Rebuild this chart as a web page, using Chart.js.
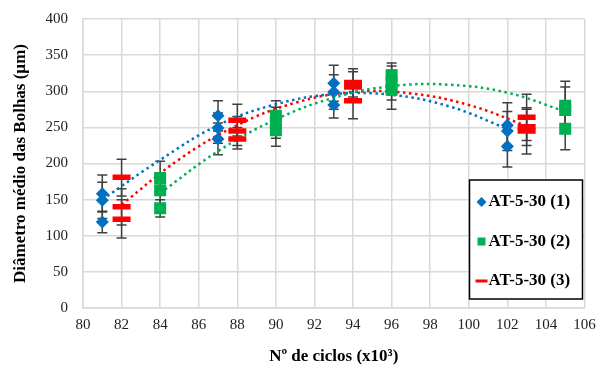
<!DOCTYPE html>
<html>
<head>
<meta charset="utf-8">
<script src="https://cdn.jsdelivr.net/npm/chart.js@4.4.1/dist/chart.umd.min.js"></script>
<style>
  html, body { margin: 0; padding: 0; background: #fff; }
  #wrap { width: 599px; height: 371px; }
</style>
</head>
<body>
<div id="wrap"><canvas id="chart"></canvas></div>
<script>
// values (3 replicates per test point)
const seriesNames = ['AT-5-30 (1)', 'AT-5-30 (2)', 'AT-5-30 (3)'];
const seriesColors = ['#0070C0', '#00B050', '#FF0000'];

const cycles1 = [81, 81, 81, 87, 87, 87, 93, 93, 93, 102, 102, 102];
const diam1   = [158, 149, 119, 266, 249, 234, 311, 299, 281, 253, 245, 224];
const low1    = [133, 124, 104, 245, 228, 212, 286, 275, 263, 222, 218, 195];
const high1   = [184, 174, 134, 287, 270, 256, 336, 323, 299, 284, 272, 253];

const cycles2 = [84, 84, 84, 90, 90, 90, 96, 96, 96, 105, 105, 105];
const diam2   = [180, 163, 138, 266, 256, 246, 322, 312, 302, 280, 274, 248];
const low2    = [157, 140, 126, 245, 235, 224, 305, 288, 275, 255, 250, 219];
const high2   = [203, 186, 150, 287, 278, 268, 339, 335, 329, 314, 306, 277];

const cycles3 = [82, 82, 82, 88, 88, 88, 94, 94, 94, 103, 103, 103];
const diam3   = [181, 140, 123, 260, 245, 234, 312, 306, 287, 264, 251, 245];
const low3    = [155, 115, 97, 238, 225, 220, 292, 285, 262, 232, 225, 213];
const high3   = [206, 165, 150, 282, 265, 250, 331, 327, 310, 296, 277, 275];

// polynomial trend lines (order 2), read at a few points
const trendX1 = [81, 84, 87, 90, 93, 96, 99, 102];
const trendY1 = [150, 205, 253, 282, 296, 295, 279, 248];
const trendX2 = [84, 87, 90, 93, 96, 99, 102, 105];
const trendY2 = [159, 217, 261, 291, 307, 309, 298, 272];
const trendX3 = [82, 85, 88, 91, 94, 97, 100, 103];
const trendY3 = [143, 206, 253, 284, 299, 297, 281, 252];

const toPts = (xs, ys) => xs.map((x, i) => ({ x: x, y: ys[i] }));

const serif = "'Liberation Serif', 'Times New Roman', serif";

const errorBars = {
    id: 'errorBars',
    beforeDatasetsDraw(chart) {
        const ctx = chart.ctx;
        const yScale = chart.scales.y;
        ctx.save();
        ctx.strokeStyle = '#404040';
        ctx.lineWidth = 1.5;
        chart.data.datasets.forEach((ds, i) => {
            if (!ds.errLow) return;
            const meta = chart.getDatasetMeta(i);
            meta.data.forEach((pt, j) => {
                const top = yScale.getPixelForValue(ds.errHigh[j]);
                const bot = yScale.getPixelForValue(ds.errLow[j]);
                ctx.beginPath();
                ctx.moveTo(pt.x, top);
                ctx.lineTo(pt.x, bot);
                ctx.moveTo(pt.x - 5, top);
                ctx.lineTo(pt.x + 5, top);
                ctx.moveTo(pt.x - 5, bot);
                ctx.lineTo(pt.x + 5, bot);
                ctx.stroke();
            });
        });
        ctx.restore();
    }
};

const boxLegend = {
    id: 'boxLegend',
    afterDraw(chart) {
        const ctx = chart.ctx;
        const area = chart.chartArea;
        const left = area.right - 115, top = 180, w = 113, h = 119;
        ctx.save();
        ctx.fillStyle = '#fff';
        ctx.fillRect(left, top, w, h);
        ctx.strokeStyle = '#000';
        ctx.lineWidth = 1.5;
        ctx.strokeRect(left, top, w, h);
        ctx.font = 'bold 17px ' + serif;
        ctx.textBaseline = 'middle';
        ctx.fillStyle = '#000';
        seriesNames.forEach((name, i) => {
            const cy = top + 22 + i * 39.5;
            const cx = left + 12;
            ctx.fillStyle = seriesColors[i];
            ctx.beginPath();
            if (i === 0) {
                ctx.moveTo(cx, cy - 5);
                ctx.lineTo(cx + 5, cy);
                ctx.lineTo(cx, cy + 5);
                ctx.lineTo(cx - 5, cy);
                ctx.closePath();
                ctx.fill();
            } else if (i === 1) {
                ctx.fillRect(cx - 4, cy - 4, 8, 8);
            } else {
                ctx.fillRect(cx - 6, cy - 1.5, 12, 3);
            }
            ctx.fillStyle = '#000';
            ctx.fillText(name, left + 19, cy);
        });
        ctx.restore();
    }
};

const markerSets = [
    { x: cycles1, y: diam1, lo: low1, hi: high1, style: 'rectRot', r: 6.5, bw: 0 },
    { x: cycles2, y: diam2, lo: low2, hi: high2, style: 'rect', r: 8.5, bw: 0 },
    { x: cycles3, y: diam3, lo: low3, hi: high3, style: 'line', r: 9, bw: 5.5 }
];
const trendSets = [[trendX1, trendY1], [trendX2, trendY2], [trendX3, trendY3]];

const datasets = [];
markerSets.forEach((s, i) => {
    datasets.push({
        label: seriesNames[i],
        data: toPts(s.x, s.y),
        errLow: s.lo,
        errHigh: s.hi,
        pointStyle: s.style,
        pointRadius: s.r,
        pointBackgroundColor: seriesColors[i],
        pointBorderColor: seriesColors[i],
        pointBorderWidth: s.bw,
        showLine: false
    });
});
trendSets.forEach((t, i) => {
    datasets.push({
        label: seriesNames[i] + ' trend',
        data: toPts(t[0], t[1]),
        showLine: true,
        pointRadius: 0,
        borderColor: seriesColors[i],
        borderWidth: 2.5,
        borderDash: [2.5, 3.5],
        borderCapStyle: 'butt',
        tension: 0.4,
        fill: false
    });
});

new Chart(document.getElementById('chart').getContext('2d'), {
    type: 'scatter',
    data: { datasets: datasets },
    options: {
        responsive: true,
        maintainAspectRatio: false,
        animation: false,
        layout: { padding: { top: 19, right: 14, left: 0, bottom: 0 } },
        scales: {
            x: {
                type: 'linear',
                min: 80,
                max: 106,
                afterFit: (scale) => {
                    scale.height = 63;
                    scale.paddingLeft = 0;
                    scale.paddingRight = 0;
                },
                grid: { color: '#d9d9d9', lineWidth: 1.5, drawTicks: false },
                border: { color: '#d9d9d9', width: 1.5 },
                ticks: {
                    stepSize: 2,
                    padding: 8,
                    color: '#222',
                    font: { family: serif, size: 15 }
                },
                title: {
                    display: true,
                    text: 'Nº de ciclos (x10³)',
                    color: '#000',
                    font: { family: serif, size: 17, weight: 'bold' },
                    padding: { top: 0, bottom: 4 }
                }
            },
            y: {
                min: 0,
                max: 400,
                afterFit: (scale) => {
                    scale.width = 83;
                    scale.paddingTop = 0;
                    scale.paddingBottom = 0;
                },
                grid: { color: '#d9d9d9', lineWidth: 1.5, drawTicks: false },
                border: { color: '#d9d9d9', width: 1.5 },
                ticks: {
                    stepSize: 50,
                    padding: 15,
                    color: '#222',
                    font: { family: serif, size: 15 }
                },
                title: {
                    display: true,
                    text: 'Diâmetro médio das Bolhas (µm)',
                    color: '#000',
                    font: { family: serif, size: 17, weight: 'bold' },
                    padding: { top: 10, bottom: 0 }
                }
            }
        },
        plugins: {
            legend: { display: false },
            tooltip: { enabled: false }
        }
    },
    plugins: [errorBars, boxLegend]
});
</script>
</body>
</html>
